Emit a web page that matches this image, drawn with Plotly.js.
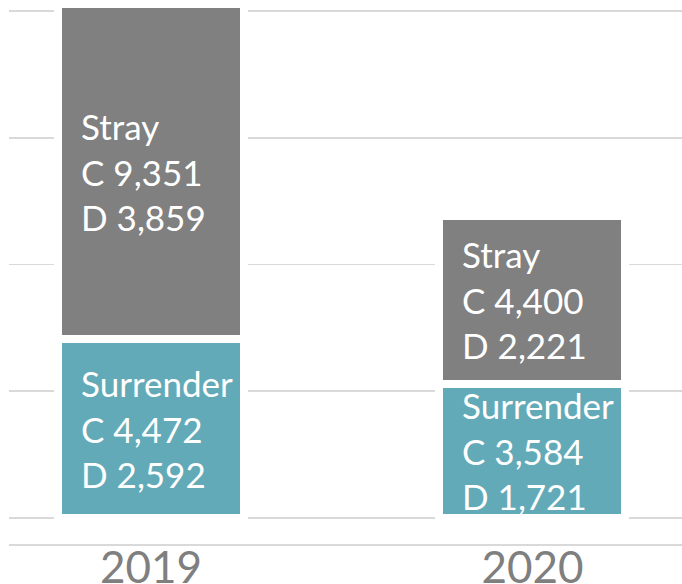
<!DOCTYPE html>
<html>
<head>
<meta charset="utf-8">
<script src="https://cdn.plot.ly/plotly-3.0.1.min.js"></script>
<style>html,body{margin:0;padding:0;background:#fff;}#chart{width:682px;height:584px;}</style>
</head>
<body>
<div id="chart"></div>
<script>
// Data
const years = ['2019', '2020'];
const surrenderC = [4472, 3584];
const surrenderD = [2592, 1721];
const strayC = [9351, 4400];
const strayD = [3859, 2221];
const seriesNames = ['Surrender', 'Stray'];

const surrenderTotal = surrenderC.map((c, i) => c + surrenderD[i]);
const strayTotal = strayC.map((c, i) => c + strayD[i]);

const fmt = n => n.toLocaleString('en-US');
const barWidth = 0.4875;

const traces = [
  {
    type: 'bar', name: seriesNames[0], x: years, y: surrenderTotal, width: barWidth,
    marker: {color: '#63aab8', line: {color: '#ffffff', width: 8}},
    hoverinfo: 'skip'
  },
  {
    type: 'bar', name: seriesNames[1], x: years, y: strayTotal, width: barWidth,
    marker: {color: '#808080', line: {color: '#ffffff', width: 8}},
    hoverinfo: 'skip'
  }
];

const annotations = [];
years.forEach((yr, i) => {
  annotations.push({
    x: i - barWidth / 2, xref: 'x', y: surrenderTotal[i] / 2, yref: 'y',
    xanchor: 'left', yanchor: 'middle', align: 'left', xshift: 21, showarrow: false,
    text: seriesNames[0] + '<br>C ' + fmt(surrenderC[i]) + '<br>D ' + fmt(surrenderD[i]),
    font: {family: 'Lato, sans-serif', size: 35, color: '#ffffff'}
  });
  annotations.push({
    x: i - barWidth / 2, xref: 'x', y: surrenderTotal[i] + strayTotal[i] / 2, yref: 'y',
    xanchor: 'left', yanchor: 'middle', align: 'left', xshift: 21, showarrow: false,
    text: seriesNames[1] + '<br>C ' + fmt(strayC[i]) + '<br>D ' + fmt(strayD[i]),
    font: {family: 'Lato, sans-serif', size: 35, color: '#ffffff'}
  });
});

const layout = {
  width: 682, height: 584,
  margin: {l: 9, r: 0, t: 0, b: 40},
  paper_bgcolor: '#ffffff', plot_bgcolor: '#ffffff',
  barmode: 'stack',
  showlegend: false,
  xaxis: {
    type: 'category', range: [-0.372, 1.392],
    showgrid: false, zeroline: false,
    showline: true, linecolor: '#d9d9d9', linewidth: 1.5,
    ticks: '', automargin: false, ticklabelstandoff: -15,
    tickfont: {family: 'Lato, sans-serif', size: 44, color: '#7f7f7f'}
  },
  yaxis: {
    range: [-1026, 20434], tick0: 0, dtick: 5000,
    showgrid: true, gridcolor: '#d9d9d9', gridwidth: 1.5,
    zeroline: true, zerolinecolor: '#d9d9d9', zerolinewidth: 1.5,
    showticklabels: false, ticks: '', showline: false, automargin: false
  },
  annotations: annotations
};

Plotly.newPlot('chart', traces, layout, {displayModeBar: false, staticPlot: true});
</script>
</body>
</html>
